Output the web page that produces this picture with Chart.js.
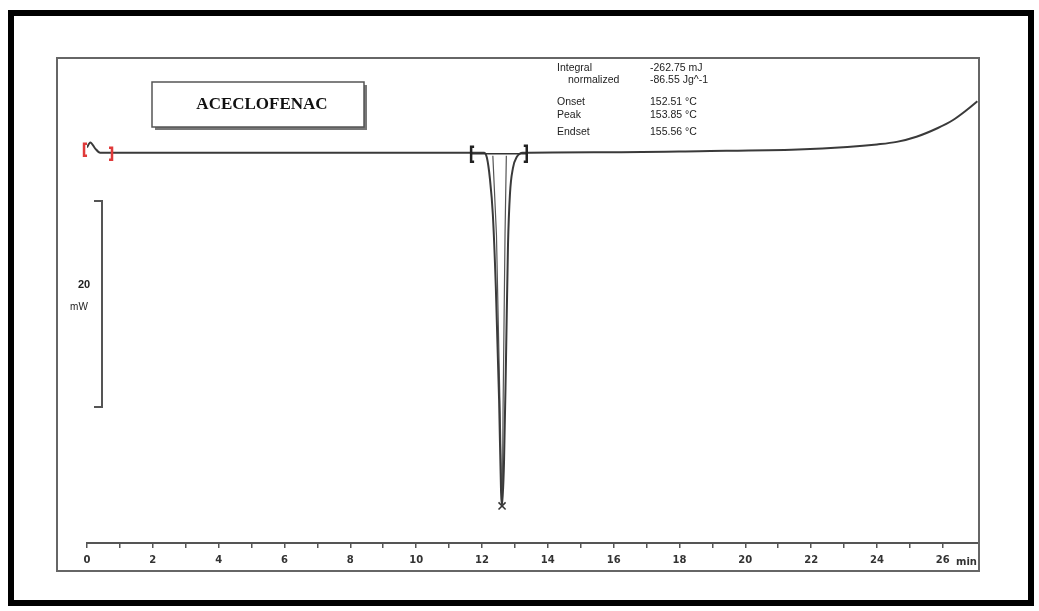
<!DOCTYPE html>
<html>
<head>
<meta charset="utf-8">
<title>ACECLOFENAC DSC</title>
<script src="https://cdn.jsdelivr.net/npm/chart.js@4/dist/chart.umd.min.js"></script>
<style>
  html, body { margin: 0; padding: 0; background: #fff; }
  #wrap { width: 1039px; height: 611px; position: relative; }
</style>
</head>
<body>
<div id="wrap"><canvas id="dsc" width="1039" height="611"></canvas></div>
<script>
// DSC heat-flow trace: time (min) against heat flow (mW), baseline at 0
const timeMin  = [0.00, 0.10, 0.25, 0.40, 3.0, 6.5, 9.5, 11.6, 12.06, 12.15, 12.24, 12.33, 12.42, 12.52, 12.58, 12.61, 12.67, 12.73, 12.79, 12.85, 12.94, 13.06, 13.24, 15.5, 18.6, 21.6, 23.1, 24.0, 24.6, 25.2, 25.85, 26.3, 26.67, 27.05];
const heatFlow = [0.50, 1.00, 0.40, 0.00, 0.0, 0.0, 0.0, 0.00, 0.00, -0.5, -2.5, -6.0, -13.0, -24.0, -33.0, -34.3, -30.0, -20.0, -9.0, -4.0, -1.5, -0.4, 0.00, 0.05, 0.15, 0.30, 0.55, 0.80, 1.05, 1.55, 2.40, 3.15, 4.00, 5.00];

// inner tangent strokes inside the melting peak
const tangentA = [{x: 12.33, y: -0.3}, {x: 12.44, y: -8.0}, {x: 12.55, y: -25.0}, {x: 12.60, y: -33.5}];
const tangentB = [{x: 12.74, y: -0.3}, {x: 12.70, y: -8.0}, {x: 12.64, y: -25.0}, {x: 12.62, y: -33.5}];

// peak minimum marker
const peakMarker = [{x: 12.61, y: -34.3}];

// integration limits of the peak and of the start-up transient
const peakLimits  = [11.67, 13.36];
const startLimits = [-0.09, 0.76];

// x axis range and 20 mW scale bar extent
const xRange = [0, 27.1];
const yRange = [-37.9, 9.0];
const scaleBar = [-4.7, -24.7];
const scaleBarLabel = ['20', 'mW'];

// peak evaluation table
const resultNames  = ['Integral', 'normalized', 'Onset', 'Peak', 'Endset'];
const resultValues = ['-262.75 mJ', '-86.55 Jg^-1', '152.51 °C', '153.85 °C', '155.56 °C'];
const sampleName = 'ACECLOFENAC';

const curve = timeMin.map((t, i) => ({x: t, y: heatFlow[i]}));

const decorations = {
  id: 'decorations',
  beforeDraw(chart) {
    const c = chart.ctx;
    c.save();
    c.fillStyle = '#fff';
    c.fillRect(0, 0, chart.width, chart.height);
    c.restore();
  },
  afterDraw(chart) {
    const c = chart.ctx;
    const xs = chart.scales.x, ys = chart.scales.y;
    c.save();

    // outer black frame
    c.strokeStyle = '#000';
    c.lineWidth = 6;
    c.strokeRect(11, 13, 1020, 590);

    // inner plot frame
    c.strokeStyle = '#666';
    c.lineWidth = 2;
    c.strokeRect(57, 58, 922, 513);

    // sample name box with shadow
    c.fillStyle = '#777';
    c.fillRect(155, 85, 212, 45);
    c.fillStyle = '#fff';
    c.fillRect(152, 82, 212, 45);
    c.strokeStyle = '#555';
    c.lineWidth = 1.5;
    c.strokeRect(152, 82, 212, 45);
    c.fillStyle = '#111';
    c.font = 'bold 17px "Liberation Serif", "DejaVu Serif", serif';
    c.textAlign = 'center';
    c.textBaseline = 'middle';
    c.fillText(sampleName, 262, 105);

    // evaluation results
    c.font = '10.5px "Liberation Sans", "DejaVu Sans", sans-serif';
    c.fillStyle = '#222';
    c.textAlign = 'left';
    const rowsY = [68, 80, 102, 115, 132];
    const nameX = [557, 568, 557, 557, 557];
    rowsY.forEach((y, i) => {
      c.fillText(resultNames[i], nameX[i], y);
      c.fillText(resultValues[i], 650, y);
    });

    // 20 mW scale bar
    const yTop = ys.getPixelForValue(scaleBar[0]);
    const yBot = ys.getPixelForValue(scaleBar[1]);
    c.strokeStyle = '#555';
    c.lineWidth = 2;
    c.beginPath();
    c.moveTo(94, yTop); c.lineTo(102, yTop); c.lineTo(102, yBot); c.lineTo(94, yBot);
    c.stroke();
    c.fillStyle = '#222';
    c.font = 'bold 11px "Liberation Sans", "DejaVu Sans", sans-serif';
    c.textAlign = 'center';
    c.fillText(scaleBarLabel[0], 84, 285);
    c.font = '10px "Liberation Sans", "DejaVu Sans", sans-serif';
    c.fillText(scaleBarLabel[1], 79, 307);

    // unit after the last axis label
    c.font = 'bold 10px "DejaVu Sans", sans-serif';
    c.fillStyle = '#333';
    c.textAlign = 'left';
    c.fillText('min', 956, 562);

    // bracket helper
    const bracket = (px, top, bot, dir, color) => {
      c.strokeStyle = color;
      c.lineWidth = 2.5;
      c.beginPath();
      c.moveTo(px + 3 * dir, top); c.lineTo(px, top); c.lineTo(px, bot); c.lineTo(px + 3 * dir, bot);
      c.stroke();
    };
    const base = ys.getPixelForValue(0);

    // start-up transient limits (red)
    bracket(xs.getPixelForValue(startLimits[0]), base - 9, base + 3, 1, '#e03a3a');
    bracket(xs.getPixelForValue(startLimits[1]), base - 5, base + 7, -1, '#e03a3a');

    // peak integration limits and baseline
    const pl = xs.getPixelForValue(peakLimits[0]);
    const pr = xs.getPixelForValue(peakLimits[1]);
    c.strokeStyle = '#333';
    c.lineWidth = 1.5;
    c.beginPath(); c.moveTo(pl, base + 1); c.lineTo(pr, base + 1); c.stroke();
    bracket(pl, base - 6, base + 9, 1, '#222');
    bracket(pr, base - 7, base + 9, -1, '#222');

    c.restore();
  }
};

new Chart(document.getElementById('dsc'), {
  type: 'scatter',
  data: {
    datasets: [
      { label: 'Heat flow', data: curve, showLine: true, borderColor: '#3a3a3a', borderWidth: 2, pointRadius: 0, cubicInterpolationMode: 'monotone' },
      { label: 'Tangent A', data: tangentA, showLine: true, borderColor: '#555', borderWidth: 1.2, pointRadius: 0 },
      { label: 'Tangent B', data: tangentB, showLine: true, borderColor: '#555', borderWidth: 1.2, pointRadius: 0 },
      { label: 'Peak', data: peakMarker, pointStyle: 'crossRot', pointRadius: 5, borderColor: '#333', borderWidth: 1.5, backgroundColor: '#333' }
    ]
  },
  options: {
    responsive: false,
    animation: false,
    layout: { padding: { left: 87, right: 60, top: 60, bottom: 43 } },
    plugins: { legend: { display: false }, tooltip: { enabled: false } },
    scales: {
      x: {
        type: 'linear',
        min: xRange[0],
        max: xRange[1],
        afterFit(scale) { scale.height = 25; },
        border: { display: true, color: '#555', width: 2 },
        grid: { drawOnChartArea: false, drawTicks: true, tickLength: 5, color: '#555', lineWidth: 1.5 },
        ticks: {
          stepSize: 1,
          autoSkip: false,
          maxRotation: 0,
          padding: 6,
          color: '#333',
          font: { family: '"DejaVu Sans", sans-serif', size: 10, weight: 'bold' },
          callback: (v) => (v % 2 === 0 ? String(v) : '')
        }
      },
      y: {
        type: 'linear',
        display: false,
        min: yRange[0],
        max: yRange[1]
      }
    }
  },
  plugins: [decorations]
});
</script>
</body>
</html>
